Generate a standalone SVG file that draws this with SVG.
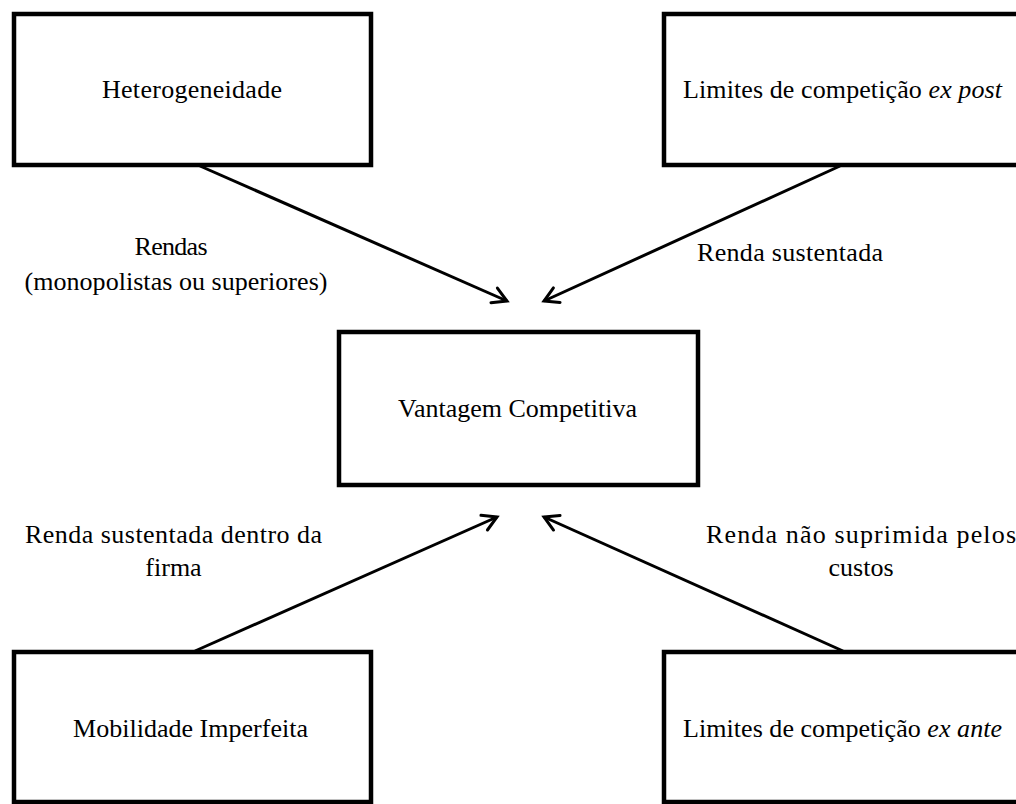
<svg xmlns="http://www.w3.org/2000/svg" width="1016" height="804" viewBox="0 0 1016 804">
<style>
.box{fill:#fff;stroke:#000;stroke-width:4.5}
.t{font-family:"Liberation Serif","Times New Roman",serif;font-size:26px;fill:#000;text-anchor:middle}
.i{font-style:italic}
.c{stroke:#000;stroke-width:3;fill:none}
</style>
<defs>
<marker id="ah" markerUnits="userSpaceOnUse" markerWidth="20" markerHeight="20" viewBox="0 0 20 20" refX="16" refY="10" orient="auto" overflow="visible">
<path d="M2,2 L16,10 L2,18" fill="none" stroke="#000" stroke-width="3" stroke-linecap="round" stroke-linejoin="miter"/>
</marker>
</defs>
<rect width="1016" height="804" fill="#fff"/>
<g id="connectors">
<line class="c" x1="200" y1="166" x2="507" y2="301" marker-end="url(#ah)"/>
<line class="c" x1="840" y1="166" x2="544" y2="301" marker-end="url(#ah)"/>
<line class="c" x1="195" y1="651" x2="497" y2="517" marker-end="url(#ah)"/>
<line class="c" x1="843" y1="651" x2="544" y2="517" marker-end="url(#ah)"/>
<text class="t" x="171" y="255" textLength="73" lengthAdjust="spacing">Rendas</text>
<text class="t" x="176" y="290" textLength="303" lengthAdjust="spacing">(monopolistas ou superiores)</text>
<text class="t" x="790" y="261" textLength="186" lengthAdjust="spacing">Renda sustentada</text>
<text class="t" x="173.5" y="543" textLength="297" lengthAdjust="spacing">Renda sustentada dentro da</text>
<text class="t" x="173.5" y="576">firma</text>
<text class="t" x="861" y="543" textLength="310" lengthAdjust="spacing">Renda não suprimida pelos</text>
<text class="t" x="861" y="576">custos</text>
</g>
<g id="heterogeneidade">
<rect class="box" x="14" y="14" width="357" height="151"/>
<text class="t" x="192" y="98" textLength="180" lengthAdjust="spacing">Heterogeneidade</text>
</g>
<g id="limites-ex-post">
<rect class="box" x="664" y="14" width="362" height="151"/>
<text class="t" x="842.5" y="98" textLength="319" lengthAdjust="spacing">Limites de competição <tspan class="i">ex post</tspan></text>
</g>
<g id="vantagem">
<rect class="box" x="339" y="332" width="359" height="153"/>
<text class="t" x="517.5" y="417" textLength="239" lengthAdjust="spacing">Vantagem Competitiva</text>
</g>
<g id="mobilidade">
<rect class="box" x="14" y="652" width="357" height="150"/>
<text class="t" x="190.5" y="737" textLength="235" lengthAdjust="spacing">Mobilidade Imperfeita</text>
</g>
<g id="limites-ex-ante">
<rect class="box" x="664" y="652" width="362" height="150"/>
<text class="t" x="842.5" y="737" textLength="319" lengthAdjust="spacing">Limites de competição <tspan class="i">ex ante</tspan></text>
</g>
</svg>
